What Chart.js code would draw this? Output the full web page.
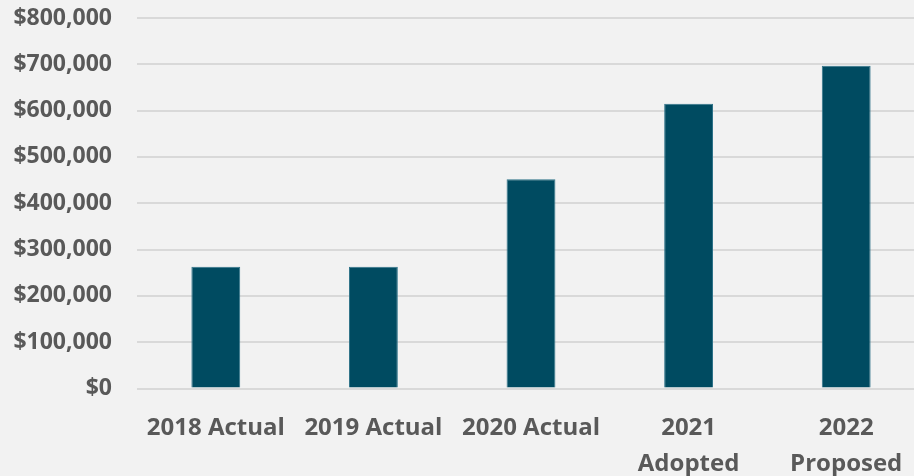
<!DOCTYPE html>
<html>
<head>
<meta charset="utf-8">
<script src="https://cdn.jsdelivr.net/npm/chart.js@4/dist/chart.umd.min.js"></script>
<style>
  html, body { margin: 0; padding: 0; background: #f2f2f2; overflow: hidden; }
  #wrap { width: 925px; height: 476px; position: relative; }
</style>
</head>
<body>
<div id="wrap"><canvas id="chart"></canvas></div>
<script>
// budget by year
const labels = ['2018 Actual', '2019 Actual', '2020 Actual', ['2021', 'Adopted'], ['2022', 'Proposed']];
const amounts = [263000, 263000, 452000, 615000, 697000];
const yTicks = [0, 100000, 200000, 300000, 400000, 500000, 600000, 700000, 800000];

const TEXT = '#595959';

new Chart(document.getElementById('chart'), {
  type: 'bar',
  data: {
    labels,
    datasets: [{
      data: amounts,
      backgroundColor: '#004b61',
      borderColor: '#2f7389',
      borderWidth: 1,
      categoryPercentage: 1,
      barPercentage: 0.31
    }]
  },
  options: {
    responsive: true, maintainAspectRatio: false,
    animation: false,
    layout: { padding: { top: 18, left: 0, right: 0, bottom: 0 } },
    plugins: { legend: { display: false }, tooltip: { enabled: false } },
    scales: {
      x: {
        grid: { display: false, drawTicks: false },
        border: { display: false },
        ticks: { color: TEXT, font: { family: 'Open Sans', size: 24, weight: 'bold', lineHeight: 1.5 }, padding: 22, maxRotation: 0, autoSkip: false },
        afterFit: s => { s.height = 87.5; s.paddingTop = 0; s.paddingBottom = 0; }
      },
      y: {
        min: 0, max: 800000,
        afterBuildTicks: s => { s.ticks = yTicks.map(v => ({ value: v })); },
        grid: { color: '#d9d9d9', lineWidth: 2, drawTicks: false },
        border: { display: false },
        ticks: { color: TEXT, font: { family: 'Open Sans', size: 23, weight: 'bold' }, padding: 25, callback: v => '$' + v.toLocaleString('en-US') },
        afterFit: s => { s.width = 137; s.paddingTop = 0; s.paddingBottom = 0; }
      }
    }
  }
});
</script>
</body>
</html>
